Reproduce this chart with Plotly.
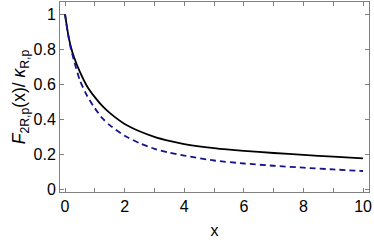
import plotly.graph_objects as go

x_vals = [0, 0.1, 0.2, 0.3, 0.5, 0.75, 1.0, 1.25, 1.5, 2.0, 2.5, 3.0, 3.5, 4.0, 5.0, 6.0, 7.0, 8.0, 9.0, 10.0]
solid_vals = [1.0, 0.89, 0.81, 0.755, 0.67, 0.585, 0.525, 0.475, 0.435, 0.372, 0.330, 0.298, 0.275, 0.257, 0.234, 0.218, 0.206, 0.195, 0.185, 0.175]
dashed_vals = [1.0, 0.885, 0.80, 0.735, 0.62, 0.53, 0.462, 0.405, 0.365, 0.305, 0.262, 0.230, 0.208, 0.191, 0.163, 0.146, 0.133, 0.122, 0.112, 0.103]

x_ticks = [0, 2, 4, 6, 8, 10]
x_minor_ticks = [1, 3, 5, 7, 9]
y_ticks = [0, 0.2, 0.4, 0.6, 0.8, 1]
y_tick_labels = ["0", "0.2", "0.4", "0.6", "0.8", "1"]

FONT = "Liberation Sans, Arial, sans-serif"

fig = go.Figure()
fig.add_trace(go.Scatter(x=x_vals, y=solid_vals, mode="lines",
                         line=dict(color="black", width=1.8, shape="spline", smoothing=0.6)))
fig.add_trace(go.Scatter(x=x_vals, y=dashed_vals, mode="lines",
                         line=dict(color="#14148c", width=1.8, dash="6px,4px", shape="spline", smoothing=0.6)))

axis_common = dict(showline=True, linecolor="#808080", linewidth=1, mirror="ticks",
                   ticks="inside", tickcolor="#808080", ticklen=4, tickwidth=1,
                   showgrid=False, zeroline=False,
                   tickfont=dict(family=FONT, size=16, color="black"))

fig.update_layout(
    width=374, height=244,
    margin=dict(l=60, r=5, t=2, b=52),
    paper_bgcolor="white", plot_bgcolor="white",
    showlegend=False,
    font=dict(family=FONT, color="black"),
    xaxis=dict(range=[-0.168, 10.2], tickvals=x_ticks, ticktext=[str(v) for v in x_ticks],
               minor=dict(tickvals=x_minor_ticks, ticks="inside", ticklen=4, tickcolor="#808080"),
               title=dict(text="x", font=dict(size=16), standoff=10),
               automargin=False,
               **axis_common),
    yaxis=dict(range=[-0.017, 1.069], tickvals=y_ticks, ticktext=y_tick_labels,
               title=dict(text="<i>F</i><sub>2R,p</sub>(x)/ <i>κ</i><sub>R,p</sub>", font=dict(size=17.5), standoff=3),
               automargin=False,
               **axis_common),
)

fig.write_html("out.html", config={"displayModeBar": False},
               post_script="document.body.style.margin='0';")
